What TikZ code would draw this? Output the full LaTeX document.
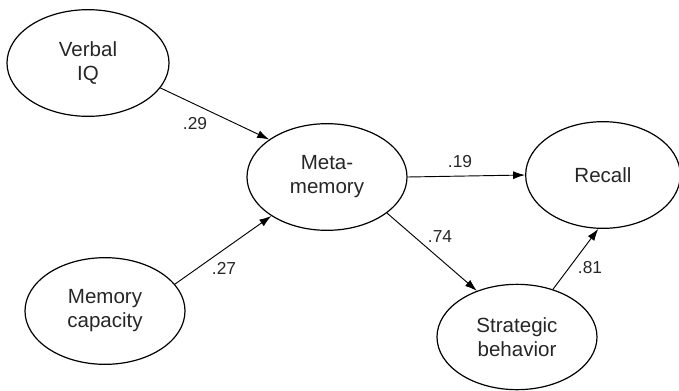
\documentclass[tikz,border=0pt]{standalone}
\usepackage{fontspec}
\setmainfont{Liberation Sans}
\usetikzlibrary{shapes.geometric,arrows.meta}
\begin{document}
\begin{tikzpicture}[x=0.75pt,y=-0.75pt,
  var/.style={ellipse,draw,line width=0.9pt,inner sep=0pt,align=center,
    font=\fontsize{15.4}{18}\selectfont,text=black!85},
  path/.style={draw,line width=0.7pt,-{Latex[length=9pt,width=6pt]}},
  coef/.style={font=\fontsize{13}{15}\selectfont,text=black!85}]
\useasboundingbox (0,0) rectangle (679,390);
\node[var,minimum width=121.5pt,minimum height=80pt] (viq) at (88,63) {Verbal\\IQ};
\node[var,minimum width=120pt,minimum height=80pt] (meta) at (327,177) {Meta-\\memory};
\node[var,minimum width=116pt,minimum height=80pt] (recall) at (603,175) {Recall};
\node[var,minimum width=120pt,minimum height=79pt] (strat) at (517,337) {Strategic\\behavior};
\node[var,minimum width=120pt,minimum height=80pt] (mcap) at (105,311) {Memory\\capacity};
\draw[path] (viq.-19.6) -- (meta.147.7);
\draw[path] (mcap.21.3) -- (meta.215);
\draw[path] (meta.0) -- (recall.180);
\draw[path] (meta.-31.7) -- (strat.131);
\draw[path] (strat.53.3) -- (recall.265);
\node[coef] (c1) at (195,124) {.29};
\node[coef] (c2) at (224,268) {.27};
\node[coef] (c3) at (460,162) {.19};
\node[coef] (c4) at (440,237) {.74};
\node[coef] (c5) at (590,268) {.81};
\end{tikzpicture}
\end{document}
